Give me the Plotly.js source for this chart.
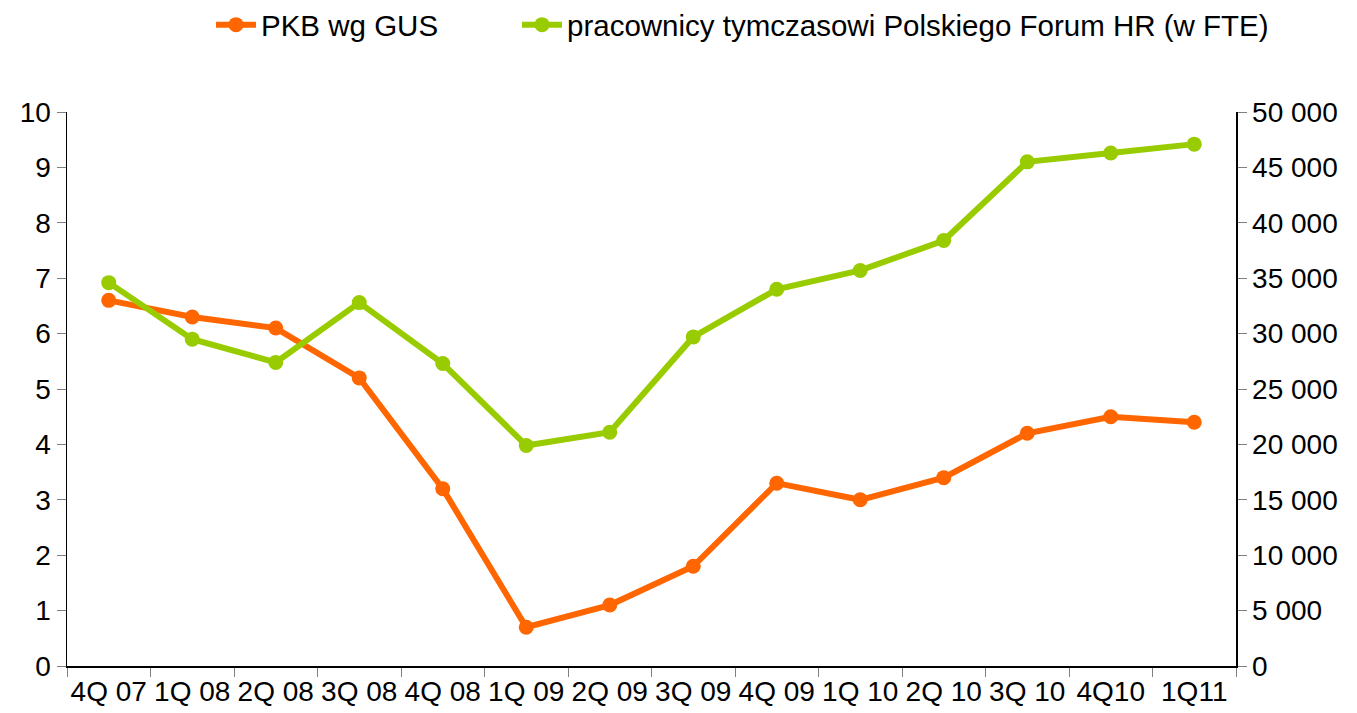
<!DOCTYPE html>
<html>
<head>
<meta charset="utf-8">
<script src="https://cdn.plot.ly/plotly-3.0.1.min.js"></script>
<style>html,body{margin:0;padding:0;background:#fff;}#chart{width:1357px;height:713px;}</style>
</head>
<body>
<div id="chart"></div>
<script>
const categories = ["4Q 07","1Q 08","2Q 08","3Q 08","4Q 08","1Q 09","2Q 09","3Q 09","4Q 09","1Q 10","2Q 10","3Q 10","4Q10","1Q11"];
const pkbValues = [6.6, 6.3, 6.1, 5.2, 3.2, 0.7, 1.1, 1.8, 3.3, 3.0, 3.4, 4.2, 4.5, 4.4];
const tempWorkers = [34600, 29500, 27400, 32800, 27300, 19900, 21100, 29700, 34000, 35700, 38400, 45500, 46300, 47100];
const leftTicks = [0,1,2,3,4,5,6,7,8,9,10];
const rightTicks = [0,5000,10000,15000,20000,25000,30000,35000,40000,45000,50000];
const rightTickLabels = ["0","5 000","10 000","15 000","20 000","25 000","30 000","35 000","40 000","45 000","50 000"];
const seriesNames = ["PKB wg GUS", "pracownicy tymczasowi Polskiego Forum HR (w FTE)"];

const fontFam = "Liberation Sans, Arial, sans-serif";
const traces = [
  {x: categories, y: pkbValues, name: seriesNames[0], type: "scatter", mode: "lines+markers",
   line: {color: "#FF6600", width: 6}, marker: {color: "#FF6600", size: 15}, yaxis: "y", legend: "legend"},
  {x: categories, y: tempWorkers, name: seriesNames[1], type: "scatter", mode: "lines+markers",
   line: {color: "#99CC00", width: 6}, marker: {color: "#99CC00", size: 15}, yaxis: "y2", legend: "legend2"}
];
const legendBase = {orientation: "h", xref: "container", yref: "container", xanchor: "left",
           y: 0.965, yanchor: "middle", font: {size: 29.5, family: fontFam}, itemwidth: 40,
           bgcolor: "rgba(0,0,0,0)"};
const layout = {
  width: 1357, height: 713,
  margin: {l: 67, r: 121, t: 112, b: 47},
  paper_bgcolor: "#fff", plot_bgcolor: "#fff",
  font: {family: fontFam, size: 28, color: "#000"},
  showlegend: true,
  legend: Object.assign({}, legendBase, {x: 211 / 1357}),
  legend2: Object.assign({}, legendBase, {x: 517 / 1357}),
  xaxis: {type: "category", range: [-0.5, 13.5], showgrid: false, zeroline: false,
          showline: true, linecolor: "#000", linewidth: 1.5,
          ticks: "outside", tickson: "boundaries", ticklen: 9, tickcolor: "#808080", tickwidth: 1,
          tickfont: {size: 28}, tickangle: 0, automargin: false},
  yaxis: {range: [0, 10], tickvals: leftTicks, showgrid: false, zeroline: false,
          showline: true, linecolor: "#000", linewidth: 1.5,
          ticks: "outside", ticklen: 9, tickcolor: "#808080", tickwidth: 1,
          tickfont: {size: 28}, automargin: false},
  yaxis2: {range: [0, 50000], overlaying: "y", side: "right", tickvals: rightTicks, ticktext: rightTickLabels,
           showgrid: false, zeroline: false, showline: true, linecolor: "#000", linewidth: 1.5,
           ticks: "outside", ticklen: 9, tickcolor: "#808080", tickwidth: 1,
           tickfont: {size: 28}, automargin: false}
};
Plotly.newPlot("chart", traces, layout, {displayModeBar: false, staticPlot: true});
</script>
</body>
</html>
